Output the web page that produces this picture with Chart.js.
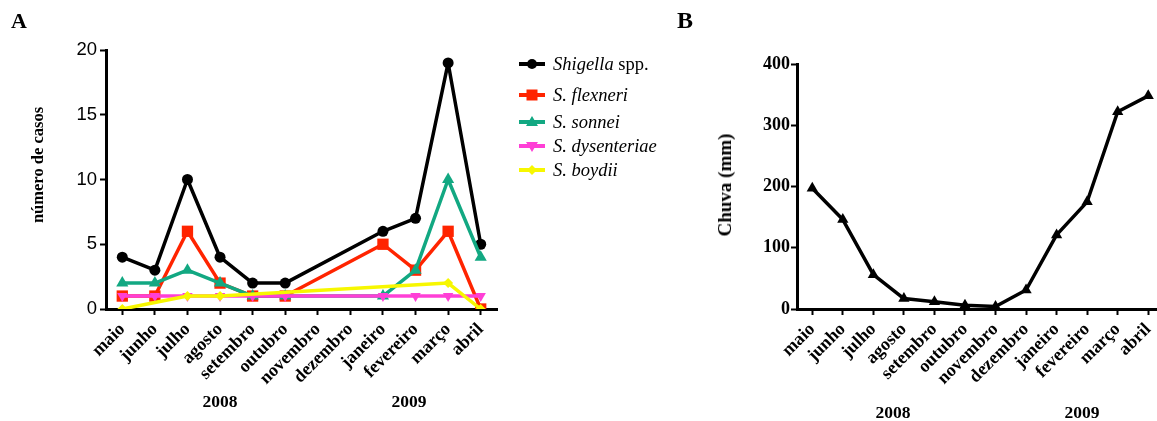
<!DOCTYPE html>
<html>
<head>
<meta charset="utf-8">
<script src="https://cdn.jsdelivr.net/npm/chart.js@4.4.1/dist/chart.umd.min.js"></script>
<style>
html, body { margin:0; padding:0; width:1157px; height:421px; overflow:hidden; background:#fff; }
canvas { position:absolute; top:0; }
.t { position:absolute; font-family:'Liberation Serif', serif; font-weight:bold; color:#000; white-space:nowrap; }
.rot { transform:translate(-50%,-50%) rotate(-90deg); }
.ctr { transform:translate(-50%,-50%); }
#legend { position:absolute; left:519px; top:0; font-family:'Liberation Serif', serif; font-style:italic; font-size:18.5px; }
#legend .item { position:absolute; left:0; white-space:nowrap; height:20px; transform:translateY(-50%); }
#legend svg { position:absolute; left:0; top:0; }
#legend span.lbl { position:absolute; left:34px; top:0; line-height:20px; }
#legend span.up { font-style:normal; }
</style>
</head>
<body>
<canvas id="cA" width="510" height="421" style="left:0px"></canvas>
<canvas id="cB" width="530" height="421" style="left:640px"></canvas>

<div class="t" style="left:11px; top:8px; font-size:22px;">A</div>
<div class="t" style="left:677px; top:7px; font-size:24px;">B</div>
<div class="t rot" style="left:38px; top:165px; font-size:16.5px;">número de casos</div>
<div class="t rot" style="left:725px; top:185px; font-size:19px;">Chuva (mm)</div>
<div class="t ctr" style="left:220px; top:401px; font-size:17.5px;">2008</div>
<div class="t ctr" style="left:409px; top:401px; font-size:17.5px;">2009</div>
<div class="t ctr" style="left:893px; top:412px; font-size:17.5px;">2008</div>
<div class="t ctr" style="left:1082px; top:412px; font-size:17.5px;">2009</div>
<div id="legend"></div>

<script>
// ---- data ----
const months = ['maio','junho','julho','agosto','setembro','outubro','novembro','dezembro','janeiro','fevereiro','março','abril'];
const shigellaSpp = [4, 3, 10, 4, 2, 2, null, null, 6, 7, 19, 5];
const flexneri    = [1, 1, 6, 2, 1, 1, null, null, 5, 3, 6, 0];
const sonnei      = [2, 2, 3, 2, 1, 1, null, null, 1, 3, 10, 4];
const dysenteriae = [1, 1, 1, 1, 1, 1, null, null, 1, 1, 1, 1];
const boydii      = [0, null, 1, 1, null, null, null, null, null, null, 2, 0];
const rainfall    = [197, 146, 56, 17, 12, 6, 4, 31, 121, 175, 322, 348];
const casesTicks  = [0, 5, 10, 15, 20];
const rainTicks   = [0, 100, 200, 300, 400];

const seriesDefs = [
  { label: 'Shigella spp.', data: shigellaSpp, color: '#000000', style: 'circle', r: 5.5, rot: 0, it: 'Shigella', up: ' spp.' },
  { label: 'S. flexneri', data: flexneri, color: '#ff2400', style: 'rect', r: 8, rot: 0, it: 'S. flexneri', up: '' },
  { label: 'S. sonnei', data: sonnei, color: '#12a882', style: 'triangle', r: 7, rot: 0, it: 'S. sonnei', up: '' },
  { label: 'S. dysenteriae', data: dysenteriae, color: '#ff3fd6', style: 'triangle', r: 6, rot: 180, it: 'S. dysenteriae', up: '' },
  { label: 'S. boydii', data: boydii, color: '#f7f700', style: 'rectRot', r: 5, rot: 0, it: 'S. boydii', up: '' }
];

const serifBold = { family: "'Liberation Serif', serif", weight: 'bold', size: 18 };

function xScale(fix) {
  return {
    type: 'category',
    offset: true,
    border: { display: true, color: '#000', width: 3 },
    grid: { display: true, drawOnChartArea: false, drawTicks: true, tickLength: 6, tickWidth: 2, tickColor: '#000', offset: false },
    ticks: { autoSkip: false, maxRotation: 45, minRotation: 45, color: '#000', font: serifBold, padding: 4 },
    afterFit: s => { s.height = fix; }
  };
}

Chart.defaults.devicePixelRatio = 1;
Chart.defaults.animation = false;

new Chart(document.getElementById('cA'), {
  type: 'line',
  data: {
    labels: months,
    datasets: seriesDefs.map((d, i) => ({
      label: d.label,
      data: d.data,
      borderColor: d.color,
      backgroundColor: d.color,
      borderWidth: 3.5,
      borderJoinStyle: 'round',
      pointStyle: d.style,
      pointRadius: d.r,
      pointRotation: d.rot,
      pointBorderWidth: 0,
      spanGaps: true,
      tension: 0,
      order: seriesDefs.length - i
    }))
  },
  options: {
    responsive: false,
    layout: { padding: { top: 50, right: 13, left: 0, bottom: 0 } },
    plugins: { legend: { display: false }, tooltip: { enabled: false } },
    scales: {
      x: xScale(112),
      y: {
        min: 0, max: 20,
        afterBuildTicks: s => { s.ticks = casesTicks.map(v => ({ value: v })); },
        border: { display: true, color: '#000', width: 3 },
        grid: { display: true, drawOnChartArea: false, drawTicks: true, tickLength: 6, tickWidth: 2, tickColor: '#000' },
        ticks: { color: '#000', padding: 3, font: { family: "'Liberation Sans', Arial, sans-serif", size: 18.5 } },
        afterFit: s => { s.width = 106; }
      }
    }
  }
});

new Chart(document.getElementById('cB'), {
  type: 'line',
  data: {
    labels: months,
    datasets: [{
      label: 'Chuva (mm)',
      data: rainfall,
      borderColor: '#000',
      backgroundColor: '#000',
      borderWidth: 3.5,
      borderJoinStyle: 'round',
      pointStyle: 'triangle',
      pointRadius: 6.5,
      pointBorderWidth: 0,
      tension: 0
    }]
  },
  options: {
    responsive: false,
    layout: { padding: { top: 64, right: 3, left: 0, bottom: 0 } },
    plugins: { legend: { display: false }, tooltip: { enabled: false } },
    scales: {
      x: xScale(112),
      y: {
        min: 0, max: 400,
        afterBuildTicks: s => { s.ticks = rainTicks.map(v => ({ value: v })); },
        border: { display: true, color: '#000', width: 3 },
        grid: { display: true, drawOnChartArea: false, drawTicks: true, tickLength: 6, tickWidth: 2, tickColor: '#000' },
        ticks: { color: '#000', padding: 1, font: { family: "'Liberation Serif', serif", weight: 'bold', size: 18 } },
        afterFit: s => { s.width = 157; }
      }
    }
  }
});

// ---- HTML legend ----
const legendY = [64, 95, 122, 146, 170];
const legend = document.getElementById('legend');
seriesDefs.forEach((d, i) => {
  const item = document.createElement('div');
  item.className = 'item';
  item.style.top = legendY[i] + 'px';
  const c = d.color;
  let marker = '';
  if (d.style === 'circle') marker = `<circle cx="13" cy="10" r="5" fill="${c}"/>`;
  else if (d.style === 'rect') marker = `<rect x="7.5" y="4.5" width="11" height="11" fill="${c}"/>`;
  else if (d.style === 'triangle' && d.rot === 0) marker = `<polygon points="13,4 19,14 7,14" fill="${c}"/>`;
  else if (d.style === 'triangle') marker = `<polygon points="13,16 19,6 7,6" fill="${c}"/>`;
  else marker = `<polygon points="13,5 18,10 13,15 8,10" fill="${c}"/>`;
  item.innerHTML = `<svg width="28" height="20"><line x1="0" y1="10" x2="26" y2="10" stroke="${c}" stroke-width="4"/>${marker}</svg>` +
    `<span class="lbl">${d.it}<span class="up">${d.up}</span></span>`;
  legend.appendChild(item);
});
</script>
</body>
</html>
